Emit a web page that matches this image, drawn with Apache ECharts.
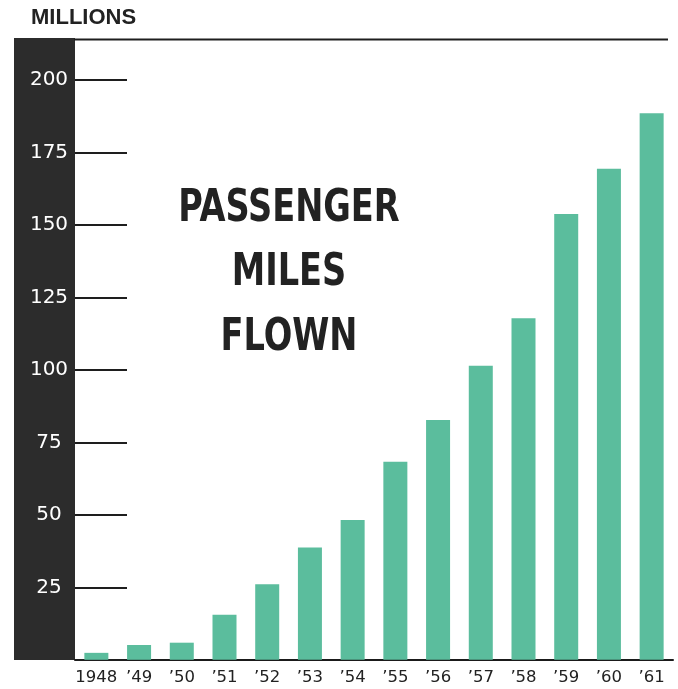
<!DOCTYPE html>
<html>
<head>
<meta charset="utf-8">
<script src="https://cdn.jsdelivr.net/npm/echarts@6/dist/echarts.min.js"></script>
<style>
  html, body { margin: 0; padding: 0; background: #ffffff; }
  #chart { width: 678px; height: 689px; }
</style>
</head>
<body>
<div id="chart"></div>
<script>
// Categories (years) and values (millions of passenger miles flown)
const categories = ['1948', '\u201949', '\u201950', '\u201951', '\u201952', '\u201953', '\u201954',
                    '\u201955', '\u201956', '\u201957', '\u201958', '\u201959', '\u201960', '\u201961'];
const passengerMiles = [2.4, 5.1, 5.9, 15.5, 26.1, 38.7, 48.2, 68.3, 82.7, 101.4, 117.8, 153.8, 169.4, 188.5];
const yMin = 0;
const yMax = 200;
const yStep = 25;
const unitLabel = 'MILLIONS';
const titleLines = ['PASSENGER', 'MILES', 'FLOWN'];

const chart = echarts.init(document.getElementById('chart'), null, { renderer: 'canvas' });

const titleFont = 'bold 45px "DejaVu Sans Condensed", "DejaVu Sans", sans-serif';
const titleY = [209, 273, 338];

const graphics = [
  // dark band behind the y-axis labels
  { type: 'rect', z: -10, shape: { x: 14, y: 38, width: 61, height: 622 }, style: { fill: '#2c2c2c' } },
  // top rule
  { type: 'line', shape: { x1: 74, y1: 39.5, x2: 668, y2: 39.5 }, style: { stroke: '#1e1e1e', lineWidth: 2 } },
  // unit label
  { type: 'text', x: 31, y: 18, style: { text: unitLabel, font: 'bold 22px "Liberation Sans", Arial, sans-serif',
      fill: '#222', align: 'left', verticalAlign: 'middle', textAlign: 'left', textVerticalAlign: 'middle' } }
];
titleLines.forEach((t, i) => {
  graphics.push({ type: 'text', x: 289, y: titleY[i], scaleX: 0.83, style: { text: t, font: titleFont, fill: '#222',
    align: 'center', verticalAlign: 'middle', textAlign: 'center', textVerticalAlign: 'middle' } });
});

const option = {
  animation: false,
  backgroundColor: '#ffffff',
  grid: { left: 75, right: 5, top: 80, bottom: 29.2, containLabel: false },
  xAxis: {
    type: 'category',
    data: categories,
    axisLine: { show: true, lineStyle: { color: '#1a1a1a', width: 2 } },
    axisTick: { show: false },
    axisLabel: { color: '#222', fontFamily: 'DejaVu Sans', fontSize: 16.5, margin: 9, interval: 0 },
    splitLine: { show: false }
  },
  yAxis: {
    type: 'value',
    min: yMin,
    max: yMax,
    interval: yStep,
    axisLine: { show: false },
    axisTick: { show: true, inside: true, length: 52, lineStyle: { color: '#1e1e1e', width: 2 } },
    axisLabel: {
      color: '#ffffff', fontFamily: 'DejaVu Sans', fontSize: 20, align: 'center', margin: 26,
      formatter: v => (v === 0 ? '' : String(v))
    },
    splitLine: { show: false }
  },
  series: [{
    type: 'bar',
    data: passengerMiles,
    barWidth: 24,
    itemStyle: { color: '#5bbd9d' }
  }],
  graphic: graphics
};

chart.setOption(option);
</script>
</body>
</html>
